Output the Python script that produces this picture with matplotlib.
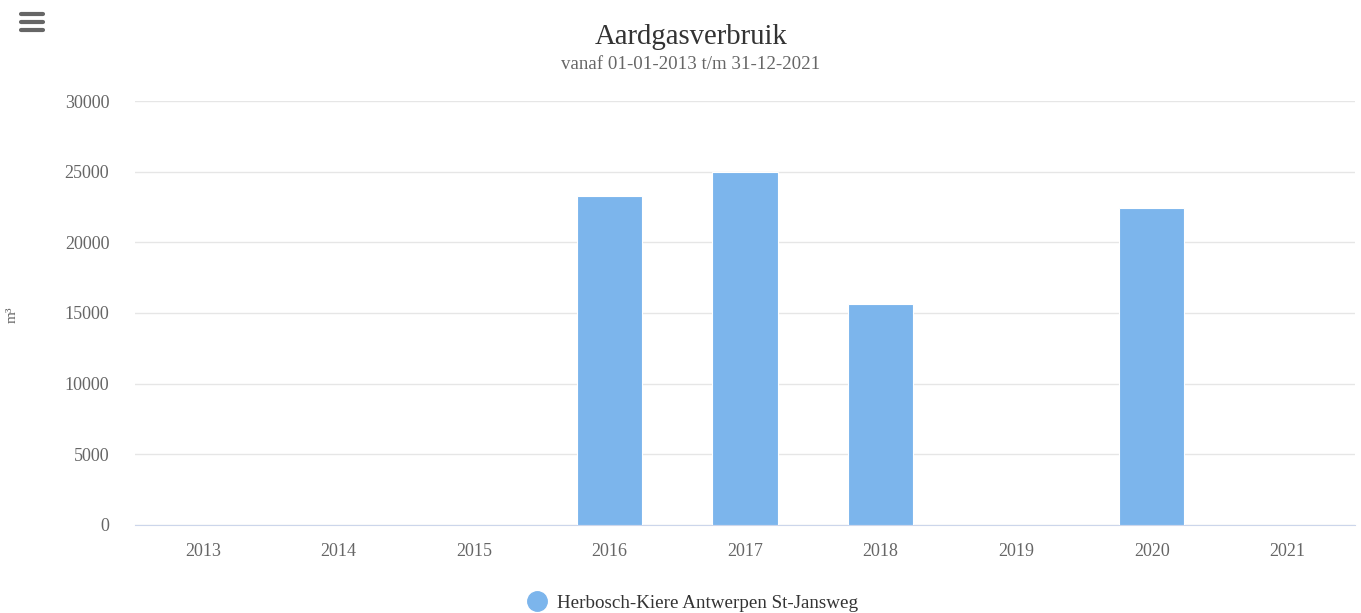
import numpy as np
import matplotlib
matplotlib.use("Agg")
import matplotlib.pyplot as plt
from matplotlib.lines import Line2D

# data
years = ["2013", "2014", "2015", "2016", "2017", "2018", "2019", "2020", "2021"]
usage = [0, 0, 0, 23280, 24960, 15640, 0, 22440, 0]
y_ticks = [0, 5000, 10000, 15000, 20000, 25000, 30000]
series_name = "Herbosch-Kiere Antwerpen St-Jansweg"

plt.rcParams['font.family'] = ['Liberation Serif', 'DejaVu Serif']

fig = plt.figure(figsize=(13.61, 6.13), dpi=100)
ax = fig.add_axes([0.0992, 0.1436, 0.8964, 0.6916])

x = np.arange(len(years))
ax.bar(x, usage, width=0.48, color="#7cb5ec", edgecolor="white", linewidth=0.8, zorder=3)

ax.set_xlim(-0.5, len(years) - 0.5)
ax.set_ylim(0, 30000)
ax.set_yticks(y_ticks)
ax.set_yticklabels([str(t) for t in y_ticks])
ax.set_xticks(x)
ax.set_xticklabels(years)
ax.yaxis.grid(True, color="#e6e6e6", linewidth=1, zorder=0)
ax.tick_params(axis="both", length=0, labelsize=13, colors="#666666")
ax.tick_params(axis="x", pad=13)
ax.tick_params(axis="y", pad=18.5)
for side in ["top", "right", "left"]:
    ax.spines[side].set_visible(False)
ax.spines["bottom"].set_color("#ccd6eb")

# axis title (unit), placed by hand near the left edge
fig.text(0.009, 0.486, "m³", rotation=90, ha="center", va="center", fontsize=11, color="#666666")

cx = 0.5075  # title block is centred on the plot area
fig.text(cx, 0.94, "Aardgasverbruik", ha="center", va="center", fontsize=20.7, color="#333333")
fig.text(cx, 0.894, "vanaf 01-01-2013 t/m 31-12-2021", ha="center", va="center", fontsize=13.6, color="#666666")

# menu icon
for yy in [0.977, 0.964, 0.951]:
    fig.add_artist(Line2D([0.0155, 0.0316], [yy, yy], color="#666666", linewidth=3,
                          solid_capstyle="round"))

# legend
handle = Line2D([], [], marker="o", linestyle="none", markersize=14,
                markerfacecolor="#7cb5ec", markeredgecolor="#7cb5ec")
fig.legend([handle], [series_name], loc="center", bbox_to_anchor=(cx - 0.0018, 0.016),
           frameon=False, fontsize=13.7, handletextpad=0.05, labelcolor="#333333")

fig.savefig("out.png", dpi=100, facecolor="white")
